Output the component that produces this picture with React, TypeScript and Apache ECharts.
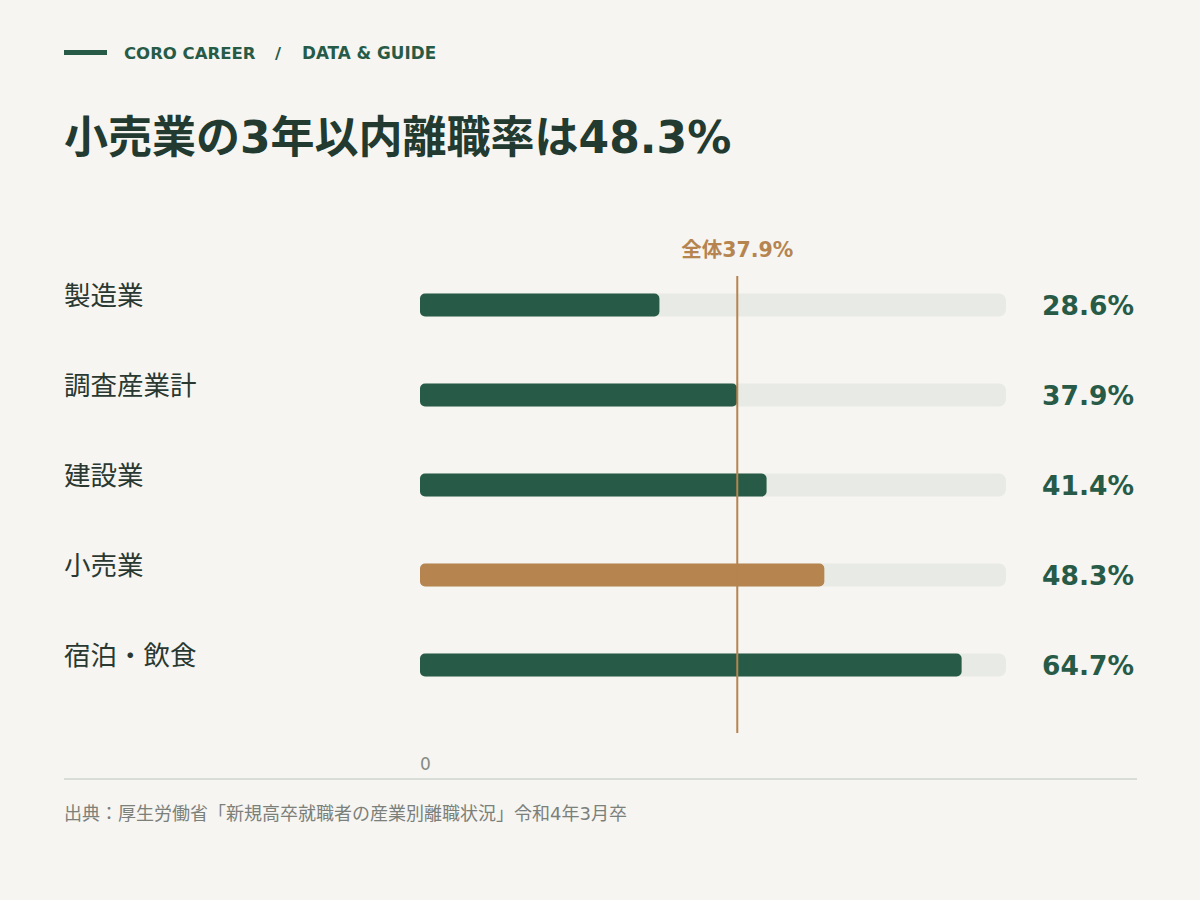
import React, { useEffect, useRef } from "react";
import * as echarts from "echarts";

const categories = ["製造業", "調査産業計", "建設業", "小売業", "宿泊・飲食"];
const rates = [28.6, 37.9, 41.4, 48.3, 64.7];
const highlightCategory = "小売業";
const overallRate = 37.9;
const overallLabel = "全体37.9%";
const axisMax = 70;
const shownTickLabels = [0];
const titleText = "小売業の3年以内離職率は48.3%";
const brandText = "CORO CAREER";
const sectionText = "DATA & GUIDE";
const sourceText = "出典：厚生労働省「新規高卒就職者の産業別離職状況」令和4年3月卒";

const BG = "#f6f5f1";
const GREEN = "#275b47";
const GOLD = "#b5844f";
const TRACK = "#e8ebe5";
const DARK = "#223a30";
const FONT = '"DejaVu Sans", "Noto Sans CJK JP", sans-serif';

export default function App() {
  const ref = useRef<HTMLDivElement>(null);
  useEffect(() => {
    const chart = echarts.init(ref.current!, null, { renderer: "svg" });
    chart.setOption({
      animation: false,
      backgroundColor: BG,
      textStyle: { fontFamily: FONT },
      grid: { left: 420, width: 586, top: 260, height: 450, containLabel: false },
      xAxis: {
        type: "value",
        min: 0,
        max: axisMax,
        splitLine: { show: false },
        axisLine: { show: false },
        axisTick: { show: false },
        axisLabel: {
          formatter: (v: number) => (shownTickLabels.includes(v) ? String(v) : ""),
          margin: 45,
          align: "left",
          color: "#858a85",
          fontSize: 17,
          fontFamily: FONT,
        },
      },
      yAxis: {
        type: "category",
        inverse: true,
        data: categories,
        axisLine: { show: false },
        axisTick: { show: false },
        axisLabel: {
          align: "left",
          margin: 356,
          fontSize: 26.5,
          color: "#2a3832",
          fontFamily: FONT,
          verticalAlign: "bottom",
          lineHeight: 20,
        },
      },
      series: [
        {
          type: "bar",
          data: categories.map(() => axisMax),
          barWidth: 23,
          silent: true,
          itemStyle: { color: TRACK, borderRadius: 7 },
          label: {
            show: true,
            position: "right",
            distance: 36,
            formatter: (p: any) => rates[p.dataIndex].toFixed(1) + "%",
            fontSize: 26.5,
            fontWeight: "bold",
            color: GREEN,
            fontFamily: FONT,
            padding: [8, 0, 0, 0],
          },
        },
        {
          type: "bar",
          barGap: "-100%",
          barWidth: 23,
          data: rates.map((v, i) => ({
            value: v,
            itemStyle: { color: categories[i] === highlightCategory ? GOLD : GREEN },
          })),
          itemStyle: { borderRadius: 5 },
        },
      ],
    });

    const mx = chart.convertToPixel({ xAxisIndex: 0 }, overallRate) as number;
    chart.setOption({
      graphic: [
        { type: "rect", shape: { x: 64, y: 50, width: 43, height: 5 }, style: { fill: GREEN } },
        {
          type: "text",
          x: 124,
          y: 53,
          style: { text: brandText, fill: GREEN, font: `bold 16.5px ${FONT}`, verticalAlign: "middle" },
        },
        {
          type: "text",
          x: 275,
          y: 53,
          style: { text: "/", fill: GREEN, font: `bold 16.5px ${FONT}`, verticalAlign: "middle" },
        },
        {
          type: "text",
          x: 302,
          y: 53,
          style: { text: sectionText, fill: GREEN, font: `bold 16.8px ${FONT}`, verticalAlign: "middle" },
        },
        {
          type: "text",
          x: 64,
          y: 137,
          style: { text: titleText, fill: DARK, font: `bold 44px ${FONT}`, verticalAlign: "middle" },
        },
        {
          type: "line",
          shape: { x1: mx, y1: 276, x2: mx, y2: 733 },
          style: { stroke: GOLD, lineWidth: 2 },
          z: 10,
        },
        {
          type: "text",
          x: mx,
          y: 250,
          style: {
            text: overallLabel,
            fill: GOLD,
            font: `bold 20.5px ${FONT}`,
            align: "center",
            verticalAlign: "middle",
          },
        },
        {
          type: "line",
          shape: { x1: 64, y1: 779, x2: 1137, y2: 779 },
          style: { stroke: "#d8ddd7", lineWidth: 2 },
        },
        {
          type: "text",
          x: 64,
          y: 813,
          style: { text: sourceText, fill: "#7b807b", font: `18px ${FONT}`, verticalAlign: "middle" },
        },
      ],
    });
    return () => chart.dispose();
  }, []);
  return (
    <div
      ref={ref}
      style={{ position: "fixed", left: 0, top: 0, width: 1200, height: 900, background: BG }}
    />
  );
}
